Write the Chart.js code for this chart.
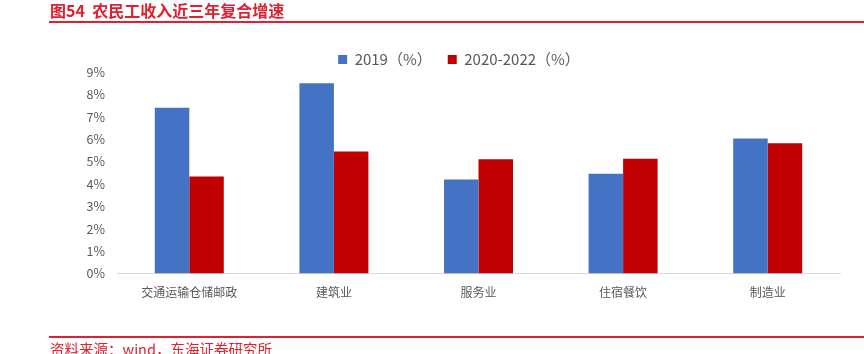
<!DOCTYPE html>
<html>
<head>
<meta charset="utf-8">
<script src="https://cdn.jsdelivr.net/npm/chart.js@4"></script>
<style>
  body { margin:0; background:#fff; font-family:"Noto Sans CJK SC", sans-serif; }
  #wrap { position:relative; width:864px; height:354px; overflow:hidden; }
  #title { position:absolute; left:50px; top:0px; font-size:16px; font-weight:bold; color:#e0202f; line-height:20px; }
  #topLine { position:absolute; left:49px; right:0; top:21px; height:2px; background:#e0202f; }
  #botLine { position:absolute; left:49px; right:0; top:336px; height:2px; background:#e0202f; }
  #source { position:absolute; left:50px; top:339px; font-size:14.5px; color:#e0202f; line-height:20px; }
  canvas { position:absolute; left:0; top:0; }
</style>
</head>
<body>
<div id="wrap">
  <canvas id="chart" width="864" height="354"></canvas>
  <div id="title">图54&nbsp;&nbsp;农民工收入近三年复合增速</div>
  <div id="topLine"></div>
  <div id="botLine"></div>
  <div id="source">资料来源：wind，东海证券研究所</div>
</div>
<script>
// categories and series (% values)
const categories = ['交通运输仓储邮政', '建筑业', '服务业', '住宿餐饮', '制造业'];
const rate2019   = [7.4, 8.5, 4.2, 4.46, 6.03];
const rate2020_22 = [4.33, 5.45, 5.1, 5.13, 5.82];
const yTicks = [0, 1, 2, 3, 4, 5, 6, 7, 8, 9];

// pull the plot a bit closer to the legend
const legendGap = {
  id: 'legendGap',
  beforeInit(chart) {
    if (!chart.legend) return;
    const fit = chart.legend.fit;
    chart.legend.fit = function () {
      fit.call(this);
      this.height -= 5;
    };
  }
};

const ctx = document.getElementById('chart').getContext('2d');
new Chart(ctx, {
  type: 'bar',
  data: {
    labels: categories,
    datasets: [
      { label: '2019（%）', data: rate2019, backgroundColor: '#4472c4', borderWidth: 0 },
      { label: '2020-2022（%）', data: rate2020_22, backgroundColor: '#c00000', borderWidth: 0 }
    ]
  },
  plugins: [legendGap],
  options: {
    responsive: false,
    animation: false,
    layout: { padding: { left: 78, right: 24, top: 36, bottom: 50 } },
    datasets: { bar: { categoryPercentage: 0.477, barPercentage: 1 } },
    scales: {
      x: {
        grid: { display: false },
        border: { color: '#d9d9d9', width: 1 },
        ticks: { color: '#595959', font: { size: 12, family: '"Noto Sans CJK SC"' }, padding: 4 }
      },
      y: {
        min: 0, max: 9,
        afterFit: axis => { axis.width = 39; },
        grid: { display: false },
        border: { display: false },
        afterBuildTicks: axis => { axis.ticks = yTicks.map(v => ({ value: v })); },
        ticks: {
          color: '#595959', padding: 4,
          font: { size: 12.5, family: '"Noto Sans CJK SC"' },
          callback: v => v + '%'
        }
      }
    },
    plugins: {
      legend: {
        position: 'top',
        labels: {
          color: '#595959', boxWidth: 9, boxHeight: 9, padding: 16,
          font: { size: 15, family: '"Noto Sans CJK SC"' }
        }
      },
      tooltip: { enabled: false }
    }
  }
});
</script>
</body>
</html>
